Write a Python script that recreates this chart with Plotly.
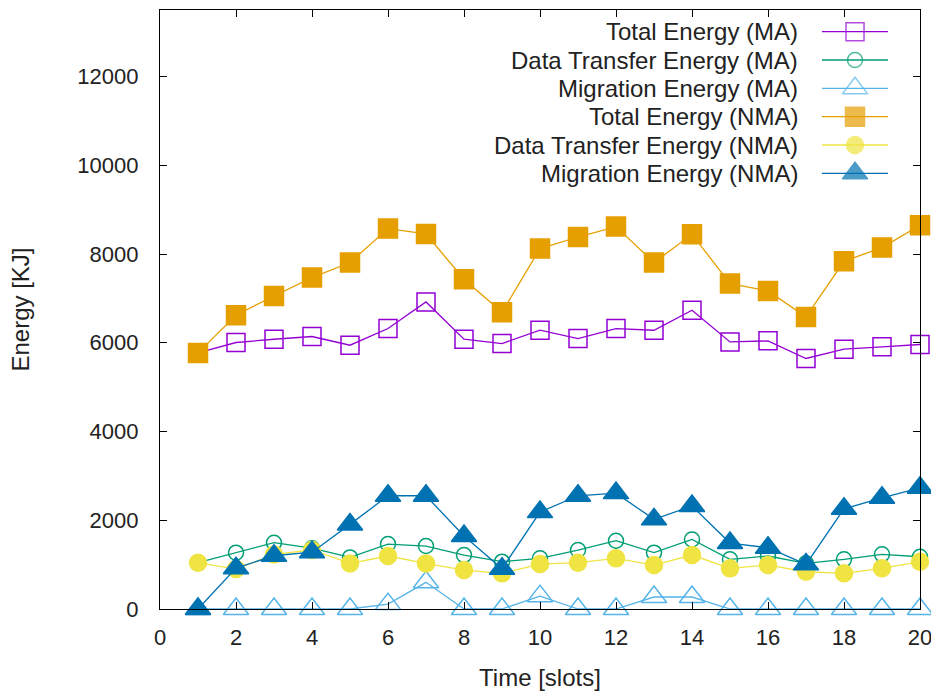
import plotly.graph_objects as go

slots = list(range(1, 21))

total_ma = [5772, 6006, 6080, 6141, 5945, 6321, 6920, 6080, 5983, 6283,
            6096, 6321, 6283, 6733, 6020, 6043, 5646, 5855, 5908, 5961]
transfer_ma = [1047, 1269, 1494, 1370, 1163, 1464, 1419, 1216, 1066, 1141,
               1329, 1539, 1269, 1569, 1119, 1194, 1029, 1119, 1232, 1178]
migration_ma = [0, 0, 0, 0, 0, 110, 601, 0, 0, 290,
                0, 0, 270, 270, 0, 0, 0, 0, 0, 0]
total_nma = [5772, 6621, 7055, 7470, 7808, 8573, 8452, 7432, 6688, 8123,
             8384, 8618, 7808, 8445, 7335, 7168, 6583, 7837, 8146, 8648]
transfer_nma = [1043, 900, 1230, 1330, 1028, 1194, 1028, 878, 803, 1013,
                1043, 1141, 991, 1216, 916, 991, 840, 804, 917, 1066]
migration_nma = [0, 920, 1200, 1280, 1907, 2552, 2552, 1644, 908, 2184,
                 2552, 2612, 2020, 2320, 1486, 1381, 1006, 2259, 2507, 2732]

names = ["Total Energy (MA)", "Data Transfer Energy (MA)", "Migration Energy (MA)",
         "Total Energy (NMA)", "Data Transfer Energy (NMA)", "Migration Energy (NMA)"]
series = [total_ma, transfer_ma, migration_ma, total_nma, transfer_nma, migration_nma]
colors = ["#9400D3", "#009E73", "#56B4E9", "#E69F00", "#F0E442", "#0072B2"]
symbols = ["square-open", "circle-open", "triangle-up-open",
           "square", "circle", "triangle-up"]
sizes = [18, 15, 22, 19, 17, 22]

FONT = "Liberation Sans, Arial, sans-serif"
FS_TICK = 22
FS_TEXT = 24
fig = go.Figure()

for name, vals, col, sym, sz in zip(names, series, colors, symbols, sizes):
    fig.add_trace(go.Scatter(
        x=slots, y=vals, name=name, mode="lines+markers",
        line=dict(color=col, width=1.3),
        marker=dict(symbol=sym, size=sz, color=col, line=dict(color=col, width=1.5)),
        cliponaxis=False, showlegend=False,
    ))

# custom legend (gnuplot style: text right-aligned, key sample on the right)
row_top = 0.9638
row_step = 0.0473
key_x0, key_x1 = 0.871, 0.958
for i, (name, col, sym, sz) in enumerate(zip(names, colors, symbols, sizes)):
    yy = row_top - i * row_step
    fig.add_trace(go.Scatter(
        x=[key_x0, (key_x0 + key_x1) / 2, key_x1], y=[yy, yy, yy],
        mode="lines+markers", xaxis="x2", yaxis="y2",
        line=dict(color=col, width=1.3),
        marker=dict(symbol=sym, size=[0, sz, 0], color=col,
                    line=dict(color=col, width=1.5)),
        cliponaxis=False, showlegend=False, hoverinfo="skip",
    ))
    fig.add_annotation(x=0.842, y=yy, xref="paper", yref="paper",
                       text=name, showarrow=False, xanchor="right", yanchor="middle",
                       font=dict(family=FONT, size=FS_TEXT, color="#222222"))

axis_common = dict(showgrid=False, zeroline=False, showline=True, linecolor="black",
                   linewidth=1.2, mirror="ticks", ticks="inside", ticklen=7,
                   tickcolor="black", tickfont=dict(size=FS_TICK), automargin=False,
                   ticklabeloverflow="allow")

fig.update_layout(
    width=931, height=691,
    margin=dict(l=160, r=11, t=10, b=82),
    paper_bgcolor="white", plot_bgcolor="white",
    font=dict(family=FONT, size=FS_TICK, color="#222222"),
    xaxis=dict(range=[0, 20], tickvals=list(range(0, 21, 2)), ticklabelstandoff=8,
               title=dict(text="Time [slots]", standoff=20, font=dict(size=FS_TEXT)),
               **axis_common),
    yaxis=dict(range=[0, 13500], tickvals=list(range(0, 12001, 2000)), tickformat="d",
               ticklabelstandoff=16,
               title=dict(text="Energy [KJ]", standoff=40, font=dict(size=FS_TEXT)),
               **axis_common),
    xaxis2=dict(domain=[0, 1], range=[0, 1], visible=False, overlaying="x",
                anchor="y2", fixedrange=True),
    yaxis2=dict(domain=[0, 1], range=[0, 1], visible=False, overlaying="y",
                anchor="x2", fixedrange=True),
)

fig.write_html("out.html", config={"displayModeBar": False},
               post_script="document.body.style.margin='0';document.body.style.overflow='hidden';")
